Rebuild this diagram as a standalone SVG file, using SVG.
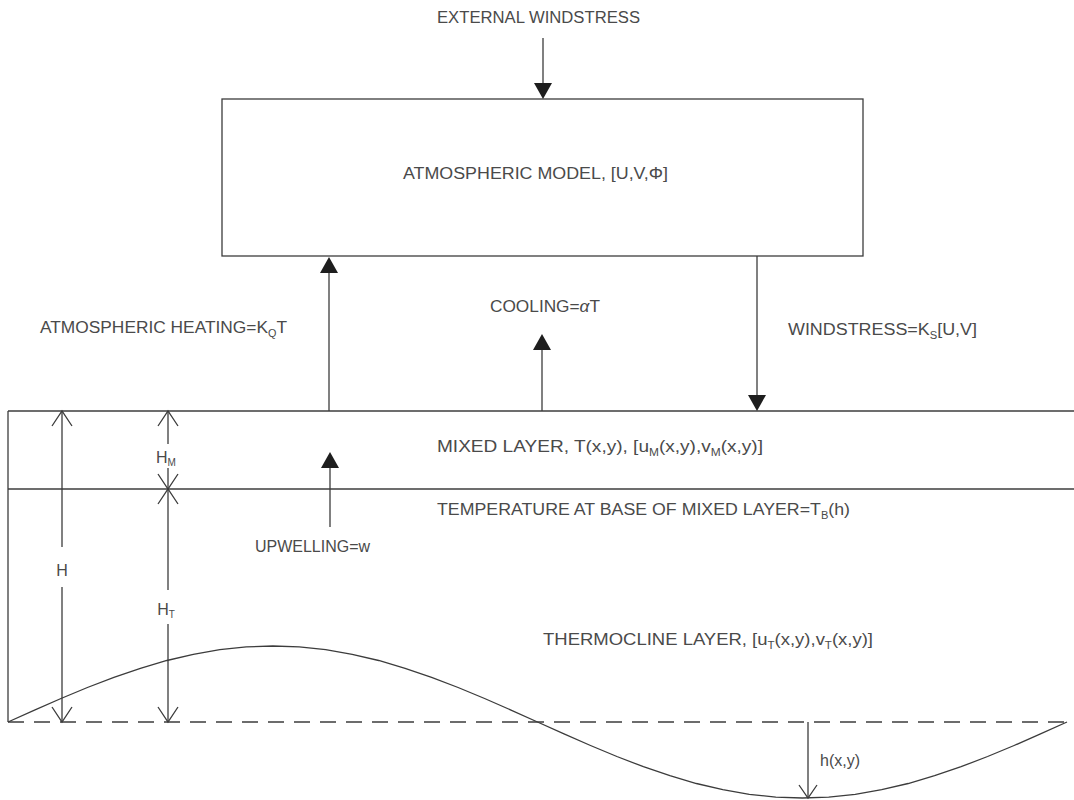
<svg xmlns="http://www.w3.org/2000/svg" width="1074" height="800" viewBox="0 0 1074 800">
<defs>
<style>
.ln{stroke:#3c3c3c;stroke-width:1.3;fill:none}
.dash{stroke:#3c3c3c;stroke-width:1.3;fill:none;stroke-dasharray:16 10}
.hd{fill:#1e1e1e;stroke:none}
.t{font-family:"Liberation Sans",Arial,sans-serif;font-size:16px;fill:#4a4a4a}
.s{font-size:10px}
</style>
</defs>
<rect width="1074" height="800" fill="#ffffff"/>

<g id="atmospheric-model">
<rect x="222" y="99" width="641" height="157" class="ln"/>
<text class="t" x="403" y="179" textLength="265" lengthAdjust="spacingAndGlyphs">ATMOSPHERIC MODEL, [U,V,Φ]</text>
</g>

<g id="external-windstress">
<text class="t" x="437" y="23" textLength="203" lengthAdjust="spacingAndGlyphs">EXTERNAL WINDSTRESS</text>
</g>

<g id="ocean">
<line x1="8" y1="411" x2="1074" y2="411" class="ln"/>
<line x1="8" y1="489" x2="1074" y2="489" class="ln"/>
<line x1="8" y1="411" x2="8" y2="722" class="ln"/>
<line x1="8" y1="722" x2="1074" y2="722" class="dash"/>
<polyline class="ln" points="8,722 34.5,710.1 61,698.5 87.4,687.5 113.9,677.3 140.4,668.3 166.9,660.5 193.3,654.3 219.8,649.7 246.3,646.9 272.8,646 299.2,646.9 325.7,649.7 352.2,654.3 378.7,660.5 405.1,668.3 431.6,677.3 458.1,687.5 484.6,698.5 511,710.1 537.5,722 564,733.9 590.5,745.5 616.9,756.5 643.4,766.7 669.9,775.7 696.4,783.5 722.8,789.7 749.3,794.3 775.8,797.1 802.3,798 828.7,797.1 855.2,794.3 881.7,789.7 908.2,783.5 934.6,775.7 961.1,766.7 987.6,756.5 1014.1,745.5 1040.5,733.9 1067,722"/>
</g>

<g id="mixed-layer">
<text class="t" x="437" y="452" textLength="326" lengthAdjust="spacingAndGlyphs">MIXED LAYER, T(x,y), [u<tspan class="s" dy="4">M</tspan><tspan dy="-4">(x,y),v</tspan><tspan class="s" dy="4">M</tspan><tspan dy="-4">(x,y)]</tspan></text>
<text class="t" x="437" y="515" textLength="413" lengthAdjust="spacingAndGlyphs">TEMPERATURE AT BASE OF MIXED LAYER=T<tspan class="s" dy="4">B</tspan><tspan dy="-4">(h)</tspan></text>
</g>

<g id="thermocline-layer">
<text class="t" x="543" y="645" textLength="330" lengthAdjust="spacingAndGlyphs">THERMOCLINE LAYER, [u<tspan class="s" dy="4">T</tspan><tspan dy="-4">(x,y),v</tspan><tspan class="s" dy="4">T</tspan><tspan dy="-4">(x,y)]</tspan></text>
</g>

<g id="dimensions">
<line x1="62" y1="411" x2="62" y2="547" class="ln"/>
<line x1="62" y1="587" x2="62" y2="722" class="ln"/>
<polyline class="ln" points="52,426 62,411 72,426"/>
<polyline class="ln" points="52,707 62,722 72,707"/>
<text class="t" x="62" y="576" text-anchor="middle">H</text>

<line x1="168" y1="411" x2="168" y2="444" class="ln"/>
<line x1="168" y1="468" x2="168" y2="489" class="ln"/>
<polyline class="ln" points="158,426 168,411 178,426"/>
<polyline class="ln" points="158,474 168,489 178,474"/>
<text class="t" x="166" y="463" text-anchor="middle">H<tspan class="s" dy="3">M</tspan></text>

<line x1="168" y1="489" x2="168" y2="590" class="ln"/>
<line x1="168" y1="624" x2="168" y2="722" class="ln"/>
<polyline class="ln" points="158,504 168,489 178,504"/>
<polyline class="ln" points="158,707 168,722 178,707"/>
<text class="t" x="166" y="615" text-anchor="middle">H<tspan class="s" dy="3">T</tspan></text>

<line x1="808" y1="722" x2="808" y2="798" class="ln"/>
<polyline class="ln" points="799,785 808,798 817,785"/>
<text class="t" x="820" y="766">h(x,y)</text>
</g>

<g id="connectors">
<line x1="543" y1="38" x2="543" y2="86" class="ln"/>
<polygon class="hd" points="534,83 552,83 543,99"/>

<line x1="329" y1="411" x2="329" y2="270" class="ln"/>
<polygon class="hd" points="320,273 338,273 329,257"/>

<line x1="542" y1="411" x2="542" y2="347" class="ln"/>
<polygon class="hd" points="533,350 551,350 542,334"/>

<line x1="757" y1="256" x2="757" y2="398" class="ln"/>
<polygon class="hd" points="748,395 766,395 757,411"/>

<line x1="330" y1="527" x2="330" y2="464" class="ln"/>
<polygon class="hd" points="321,468 339,468 330,452"/>
</g>

<g id="labels">
<text class="t" x="40" y="333" textLength="247" lengthAdjust="spacingAndGlyphs">ATMOSPHERIC HEATING=K<tspan class="s" dy="4">Q</tspan><tspan dy="-4">T</tspan></text>
<text class="t" x="490" y="312" textLength="110" lengthAdjust="spacingAndGlyphs">COOLING=<tspan font-style="italic">α</tspan>T</text>
<text class="t" x="788" y="335" textLength="189" lengthAdjust="spacingAndGlyphs">WINDSTRESS=K<tspan class="s" dy="4">S</tspan><tspan dy="-4">[U,V]</tspan></text>
<text class="t" x="255" y="552" textLength="115" lengthAdjust="spacingAndGlyphs">UPWELLING=w</text>
</g>
</svg>
